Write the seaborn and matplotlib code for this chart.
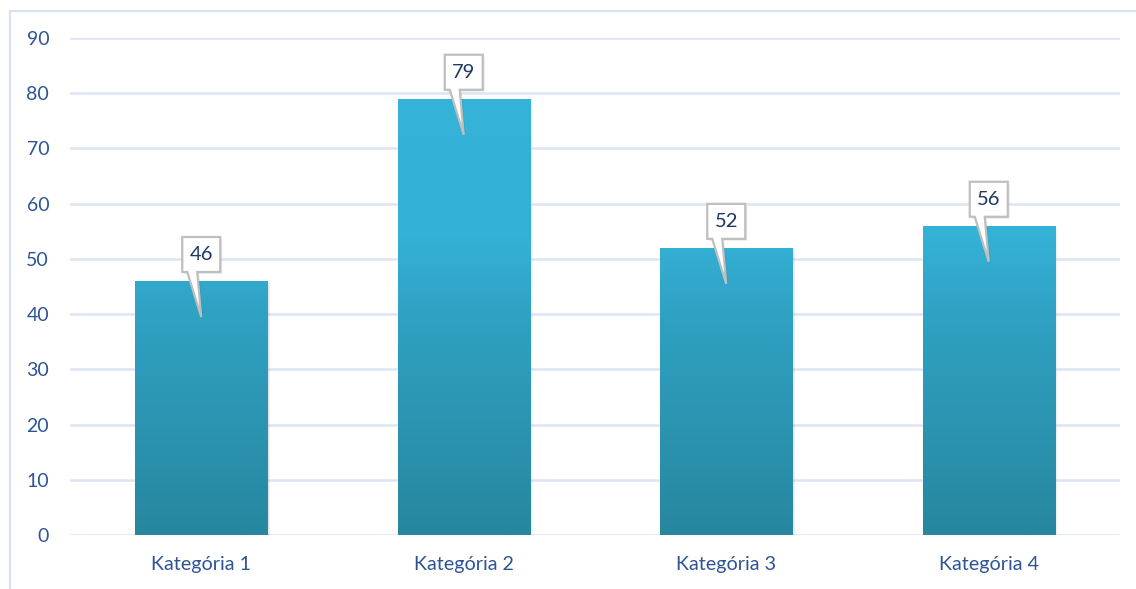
import numpy as np
import pandas as pd
import seaborn as sns
import matplotlib
matplotlib.use("Agg")
from matplotlib import pyplot as plt
from matplotlib import transforms as mtransforms
from matplotlib.patches import Polygon, Rectangle
from matplotlib.colors import LinearSegmentedColormap

categories = ["Kategória 1", "Kategória 2", "Kategória 3", "Kategória 4"]
values = [46, 79, 52, 56]
yticks = [0, 10, 20, 30, 40, 50, 60, 70, 80, 90]

df = pd.DataFrame({"kat": categories, "hodnota": values})

sns.set_style("white")
plt.rcParams["font.family"] = ["Lato", "DejaVu Sans"]

fig = plt.figure(figsize=(11.36, 5.89), dpi=100)
ax = fig.add_axes([70 / 1136, 54 / 589, 1050 / 1136, 497 / 589])

sns.barplot(data=df, x="kat", y="hodnota", color="#33B1D5", width=0.503,
            saturation=1, ax=ax, zorder=3)

ax.set_ylim(0, 90)
ax.set_xlim(-0.5, 3.5)
ax.set_yticks(yticks)
ax.set_xlabel("")
ax.set_ylabel("")
for s in ax.spines.values():
    s.set_visible(False)
ax.yaxis.grid(True, color="#DCE5F4", linewidth=1.8)
ax.set_axisbelow(True)
ax.tick_params(axis="y", length=0, pad=15, labelsize=14, labelcolor="#2E5496")
ax.tick_params(axis="x", length=0, pad=15, labelsize=14.2, labelcolor="#2E5496")

# gradient fill over the bars (light at top, darker towards 0)
cmap = LinearSegmentedColormap.from_list(
    "g", [(0, "#27879F"), (0.42, "#2FA0C1"), (0.6, "#34B1D6"), (1, "#35B3D8")])
grad = np.linspace(0, 1, 256).reshape(-1, 1)
for p in ax.patches:
    x0, w, h = p.get_x(), p.get_width(), p.get_height()
    # soft shadow to the right / bottom
    for k, a in zip([4, 3, 2, 1], [0.03, 0.04, 0.06, 0.08]):
        sh = Rectangle((x0, 0), w, h, facecolor="black", alpha=a, edgecolor="none", zorder=2,
                       transform=ax.transData + mtransforms.Affine2D().translate(k * 0.8, -k * 0.8))
        ax.add_patch(sh)
    im = ax.imshow(grad, extent=[x0, x0 + w, 0, 90], origin="lower", cmap=cmap,
                   aspect="auto", zorder=3.5, vmin=0, vmax=1)
    im.set_clip_path(p)

ax.set_xlim(-0.5, 3.5)
ax.set_ylim(0, 90)

# callout labels
verts = [(-19, 9), (-14, 9), (0, -36), (-4, 9), (19, 9), (19, 44), (-19, 44)]
for i, v in enumerate(values):
    tr = mtransforms.IdentityTransform() + mtransforms.ScaledTranslation(i, v, ax.transData)
    shadow = Polygon(verts, closed=True, facecolor="black", alpha=0.08, edgecolor="none",
                     transform=tr + mtransforms.Affine2D().translate(2, -2),
                     zorder=4, clip_on=False)
    ax.add_patch(shadow)
    poly = Polygon(verts, closed=True, facecolor="white", edgecolor="#BFBFBF",
                   linewidth=1.6, transform=tr, zorder=5, clip_on=False)
    ax.add_patch(poly)
    ax.text(0, 26.5, str(v), transform=tr, ha="center", va="center", fontsize=14.5,
            color="#1F3864", zorder=6)

# outer chart frame (partially visible)
fig.patches.append(Rectangle((9.5 / 1136, -0.1), 1.2, (589 - 10.5) / 589 + 0.1,
                             transform=fig.transFigure, facecolor="none",
                             edgecolor="#D6E2F3", linewidth=1.5))

fig.savefig("out.png", dpi=100)
